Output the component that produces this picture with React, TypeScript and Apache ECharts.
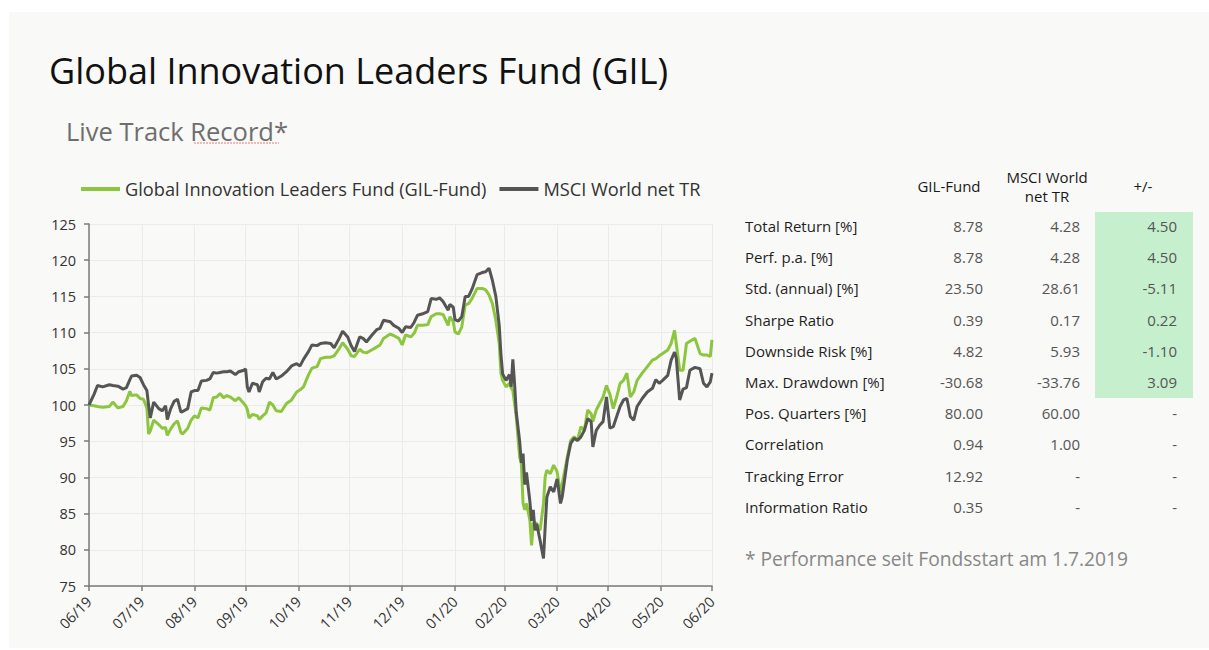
import React, { useEffect, useRef } from "react";
import * as echarts from "echarts";

const FONT = "'Open Sans', Lato, sans-serif";

const TITLE = "Global Innovation Leaders Fund (GIL)";
const SUBTITLE = "Live Track Record*";
const FOOTNOTE = "* Performance seit Fondsstart am 1.7.2019";
const SERIES_NAMES = ["Global Innovation Leaders Fund (GIL-Fund)", "MSCI World net TR"];

const dates = [
  "2019-06-30","2019-07-03","2019-07-05","2019-07-08","2019-07-12","2019-07-14","2019-07-17","2019-07-20","2019-07-22","2019-07-24",
  "2019-07-25","2019-07-28","2019-07-30","2019-08-01","2019-08-03","2019-08-04","2019-08-05","2019-08-07","2019-08-10","2019-08-12",
  "2019-08-14","2019-08-15","2019-08-17","2019-08-19","2019-08-21","2019-08-23","2019-08-24","2019-08-27","2019-08-29","2019-08-31",
  "2019-09-02","2019-09-04","2019-09-07","2019-09-09","2019-09-11","2019-09-13","2019-09-15","2019-09-17","2019-09-19","2019-09-21",
  "2019-09-24","2019-09-26","2019-09-29","2019-09-30","2019-10-01","2019-10-02","2019-10-04","2019-10-07","2019-10-08","2019-10-10",
  "2019-10-12","2019-10-14","2019-10-16","2019-10-18","2019-10-21","2019-10-24","2019-10-27","2019-10-30","2019-11-01","2019-11-03",
  "2019-11-06","2019-11-08","2019-11-11","2019-11-13","2019-11-16","2019-11-19","2019-11-21","2019-11-24","2019-11-26","2019-11-29",
  "2019-12-01","2019-12-03","2019-12-06","2019-12-08","2019-12-10","2019-12-13","2019-12-16","2019-12-18","2019-12-20","2019-12-24",
  "2019-12-26","2019-12-29","2019-12-31","2020-01-02","2020-01-05","2020-01-07","2020-01-09","2020-01-12","2020-01-15","2020-01-17",
  "2020-01-20","2020-01-22","2020-01-24","2020-01-27","2020-01-28","2020-01-30","2020-01-31","2020-02-02","2020-02-04","2020-02-06",
  "2020-02-08","2020-02-10","2020-02-13","2020-02-16","2020-02-18","2020-02-20","2020-02-22","2020-02-24","2020-02-26","2020-02-27",
  "2020-02-28","2020-03-01","2020-03-03","2020-03-04","2020-03-05","2020-03-06","2020-03-07","2020-03-09","2020-03-10","2020-03-11",
  "2020-03-12","2020-03-13","2020-03-15","2020-03-16","2020-03-17","2020-03-18","2020-03-19","2020-03-21","2020-03-23","2020-03-24",
  "2020-03-25","2020-03-27","2020-03-29","2020-03-31","2020-04-02","2020-04-03","2020-04-06","2020-04-08","2020-04-10","2020-04-12",
  "2020-04-14","2020-04-16","2020-04-18","2020-04-20","2020-04-21","2020-04-23","2020-04-25","2020-04-27","2020-04-29","2020-05-01",
  "2020-05-03","2020-05-05","2020-05-07","2020-05-09","2020-05-11","2020-05-13","2020-05-15","2020-05-17","2020-05-20","2020-05-23",
  "2020-05-26","2020-05-28","2020-05-30","2020-06-01","2020-06-04","2020-06-06","2020-06-08","2020-06-09","2020-06-11","2020-06-13",
  "2020-06-15","2020-06-17","2020-06-20","2020-06-23","2020-06-25","2020-06-27","2020-06-29","2020-06-30"
];

const gilFund = [
  100, 99.9, 99.8, 99.7, 99.8, 100.4, 99.6, 99.8, 100.6, 101.9,
  101.3, 101.4, 100.9, 100.8, 99.6, 96, 96.4, 97.9, 97.3, 96.8,
  96.9, 95.8, 96.7, 97.4, 97.8, 96.2, 96, 96.8, 97.9, 98.5,
  98.2, 99.6, 99.5, 99.3, 101, 101.1, 101.6, 101, 101.3, 101.1,
  100.6, 101, 100.2, 99.9, 99.4, 98.2, 98.7, 98.5, 98, 98.5,
  98.9, 100.4, 100, 99.2, 99.1, 100.2, 100.7, 101.8, 102.1, 102.5,
  104.2, 105.1, 105.3, 106.4, 106.6, 106.6, 106.8, 107.8, 108.6, 107.7,
  106.8, 106.7, 107.7, 107.3, 107.2, 107.6, 108, 108.3, 109.2, 109.8,
  109.6, 109.2, 108.3, 109.7, 109.4, 109.9, 111, 111, 111.1, 112.2,
  112.6, 112.6, 112.5, 111, 112.2, 111.5, 110.1, 109.8, 110.8, 113.8,
  114, 114.7, 116.1, 116.1, 115.9, 115.2, 114, 111.7, 108.5, 104.4,
  103.4, 102.5, 103, 102.4, 102, 100.2, 98.4, 92.8, 91.9, 86.4,
  85.5, 86.4, 84.1, 80.6, 83.6, 83.8, 83.6, 82.7, 86.4, 90.1,
  91, 90.5, 91.7, 90.8, 87.8, 89.1, 92.8, 95.1, 95.6, 95.1,
  97, 96.5, 99.3, 98.8, 97.7, 99.3, 100.2, 101.1, 102.7, 101.5,
  99.5, 101.1, 103, 103.4, 104.4, 101.1, 101.8, 103.4, 104.4, 105.3,
  106.2, 106.4, 106.8, 107.1, 107.6, 108.5, 110.3, 108.5, 104.8, 104.8,
  108.5, 108.8, 109.2, 107.1, 106.9, 106.9, 106.7, 109
];

const msciWorld = [
  100, 101.5, 102.7, 102.5, 102.8, 102.7, 102.6, 102.2, 102.4, 103.5,
  104, 104.1, 103.8, 102.8, 102, 100, 98.2, 100.4, 99.5, 99.2,
  99.9, 98, 99.5, 100.5, 100.8, 99, 99.1, 99.5, 101.8, 102,
  102, 103.3, 103.4, 103.6, 104.5, 104.4, 104.5, 104.6, 104.6, 104.7,
  104.2, 104.6, 104.8, 105, 102.5, 101.8, 103, 102.8, 101.8, 103.2,
  103.7, 103.6, 104.5, 103.6, 104, 104.6, 105.4, 105.7, 105.4, 106.3,
  107.4, 108.3, 108.2, 108.5, 108.6, 108.5, 107.9, 109.2, 110.2, 109.4,
  108.2, 107.4, 109.4, 109.2, 108.7, 109.6, 110.4, 110.6, 111.7, 111.5,
  111, 110.6, 110, 110.8, 110.7, 111.4, 112.4, 112.6, 112.9, 114.7,
  114.6, 114.8, 114.3, 113.1, 113.9, 113.5, 111.8, 111.6, 112.2, 115,
  115, 116, 118, 118.3, 118.4, 118.9, 117.2, 115, 111, 107,
  104.3, 103.4, 104.2, 102.5, 106.3, 103, 99, 95, 92, 93.3,
  89, 90.7, 86.7, 84, 85.5, 82.7, 83.6, 81.3, 78.8, 83.2,
  87.3, 88.7, 88, 89.8, 86.4, 87.3, 92.4, 94.7, 95.4, 95.1,
  95.6, 96.5, 98.1, 97.7, 94.2, 96.5, 97.2, 97.7, 101.1, 96.8,
  97, 98.4, 99.8, 100.7, 100.9, 98.4, 97.9, 99.8, 100.9, 101.8,
  102.3, 103.5, 103, 103.4, 104.1, 106.2, 107.3, 106.5, 100.7, 102.2,
  102.4, 104.8, 105.2, 105, 103, 102.5, 103.2, 104.4
];

const tickDates = [
  "2019-06-30","2019-07-31","2019-08-31","2019-09-30","2019-10-31","2019-11-30","2019-12-31",
  "2020-01-31","2020-02-29","2020-03-31","2020-04-30","2020-05-31","2020-06-30"
];

const Y_MIN = 75;
const Y_MAX = 125;
const Y_STEP = 5;

const tableHeaders = ["GIL-Fund", "MSCI World\nnet TR", "+/-"];
const rowLabels = [
  "Total Return [%]","Perf. p.a. [%]","Std. (annual) [%]","Sharpe Ratio","Downside Risk [%]",
  "Max. Drawdown [%]","Pos. Quarters [%]","Correlation","Tracking Error","Information Ratio"
];
const gilStats = ["8.78","8.78","23.50","0.39","4.82","-30.68","80.00","0.94","12.92","0.35"];
const msciStats = ["4.28","4.28","28.61","0.17","5.93","-33.76","60.00","1.00","-","-"];
const diffStats = ["4.50","4.50","-5.11","0.22","-1.10","3.09","-","-","-","-"];

function toTs(s: string): number {
  const [y, m, d] = s.split("-").map(Number);
  return Date.UTC(y, m - 1, d);
}

function txt(text: string, x: number, y: number, opts: any = {}) {
  const align = opts.align || "left";
  return {
    type: "text",
    x,
    y,
    silent: true,
    style: {
      text,
      fontFamily: FONT,
      fontSize: opts.size || 15,
      fontWeight: opts.weight || "normal",
      fill: opts.color || "#222",
      align,
      textAlign: align,
      verticalAlign: "middle",
      textVerticalAlign: "middle",
      lineHeight: opts.lineHeight,
    },
  };
}

export default function App() {
  const ref = useRef<HTMLDivElement>(null);

  useEffect(() => {
    if (!ref.current) return;
    const chart = echarts.init(ref.current, null, { renderer: "svg" });
    const tickTs = tickDates.map(toTs);

    const graphics: any[] = [];
    graphics.push(txt(TITLE, 49, 70, { size: 36, color: "#111" }));
    graphics.push(txt(SUBTITLE, 66, 131, { size: 25.5, color: "#6e6e6e" }));
    graphics.push({
      type: "line",
      silent: true,
      shape: { x1: 194, y1: 143, x2: 279, y2: 143 },
      style: { stroke: "#e57b7b", lineWidth: 1, lineDash: [2, 1] },
    });

    const labelX = 745;
    const colRight = [983, 1080, 1177];
    const colCenter = [949, 1047, 1143];
    const rowY0 = 226;
    const rowStep = 31.2;
    graphics.push({
      type: "rect",
      silent: true,
      shape: { x: 1095, y: 212, width: 98, height: 186 },
      style: { fill: "#c6efce" },
    });
    tableHeaders.forEach((h, i) => {
      graphics.push(txt(h, colCenter[i], 186, { size: 15, align: "center", color: "#1a1a1a", lineHeight: 19 }));
    });
    rowLabels.forEach((lab, r) => {
      const y = rowY0 + r * rowStep;
      graphics.push(txt(lab, labelX, y, { size: 15, color: "#1f1f1f" }));
      graphics.push(txt(gilStats[r], colRight[0], y, { size: 15, color: "#555", align: "right" }));
      graphics.push(txt(msciStats[r], colRight[1], y, { size: 15, color: "#555", align: "right" }));
      graphics.push(txt(diffStats[r], colRight[2], y, { size: 15, color: "#555", align: "right" }));
    });
    graphics.push(txt(FOOTNOTE, 745, 558, { size: 19.2, color: "#878787" }));

    const option: any = {
      animation: false,
      textStyle: { fontFamily: FONT },
      color: ["#8cc63f", "#555555"],
      legend: {
        left: 76,
        top: 175,
        icon: "rect",
        itemWidth: 39,
        itemHeight: 4,
        itemGap: 13,
        textStyle: { fontSize: 18.2, color: "#333", fontFamily: FONT },
        data: SERIES_NAMES,
      },
      grid: { left: 89, top: 224, width: 623, height: 362, containLabel: false },
      xAxis: {
        type: "value",
        min: tickTs[0],
        max: tickTs[tickTs.length - 1],
        axisLine: { lineStyle: { color: "#7a7a7a", width: 1.5 } },
        axisTick: {
          show: true,
          length: 5,
          customValues: tickTs,
          lineStyle: { color: "#7a7a7a", width: 1.5 },
        },
        axisLabel: {
          customValues: tickTs,
          rotate: 45,
          margin: 13,
          fontSize: 14.5,
          color: "#333",
          fontFamily: FONT,
          showMinLabel: true,
          showMaxLabel: true,
          formatter: (v: number) => {
            const d = new Date(v);
            const mm = String(d.getUTCMonth() + 1).padStart(2, "0");
            const yy = String(d.getUTCFullYear() % 100).padStart(2, "0");
            return mm + "/" + yy;
          },
        },
        splitLine: { show: true, lineStyle: { color: "#ebebeb", width: 1 } },
      },
      yAxis: {
        type: "value",
        min: Y_MIN,
        max: Y_MAX,
        interval: Y_STEP,
        axisLine: { show: true, lineStyle: { color: "#7a7a7a", width: 1.5 } },
        axisTick: { show: true, length: 5, lineStyle: { color: "#7a7a7a", width: 1.5 } },
        axisLabel: { fontSize: 14.5, color: "#333", margin: 13, fontFamily: FONT },
        splitLine: { show: true, lineStyle: { color: "#ebebeb", width: 1 } },
      },
      series: [
        {
          name: SERIES_NAMES[0],
          type: "line",
          showSymbol: false,
          symbol: "none",
          lineStyle: { width: 3, color: "#8cc63f" },
          itemStyle: { color: "#8cc63f" },
          data: dates.map((d, i) => [toTs(d), gilFund[i]]),
          z: 2,
        },
        {
          name: SERIES_NAMES[1],
          type: "line",
          showSymbol: false,
          symbol: "none",
          lineStyle: { width: 3, color: "#555555" },
          itemStyle: { color: "#555555" },
          data: dates.map((d, i) => [toTs(d), msciWorld[i]]),
          z: 3,
        },
      ],
      graphic: { elements: graphics },
    };
    chart.setOption(option);
    return () => chart.dispose();
  }, []);

  return (
    <div style={{ position: "fixed", left: 0, top: 0, width: 1209, height: 650, background: "#ffffff" }}>
      <div style={{ position: "absolute", left: 9, top: 12, width: 1200, height: 636, background: "#f9f9f7" }} />
      <div ref={ref} style={{ position: "absolute", left: 0, top: 0, width: 1209, height: 650 }} />
    </div>
  );
}
